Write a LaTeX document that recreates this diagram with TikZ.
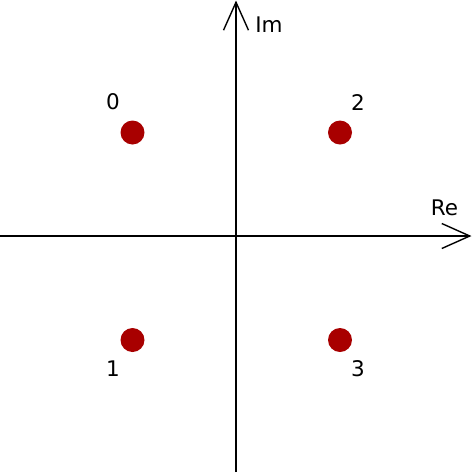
\documentclass[tikz,border=0pt]{standalone}
\usepackage{fontspec}
\setmainfont{DejaVu Sans}
\usetikzlibrary{arrows.meta, positioning}
\definecolor{symred}{HTML}{A80000}

\begin{document}
\begin{tikzpicture}[
    x=1pt, y=-1pt, >={Straight Barb[length=28pt, width=25pt, line width=1.4pt]},
    axis/.style={line width=1.4pt, ->},
    symbol/.style={circle, fill=symred, minimum size=24pt, inner sep=0pt},
    every node/.style={font=\fontsize{21.5}{26}\selectfont}
]
\useasboundingbox (0,0) rectangle (473,475);
% Define axes
\coordinate (re_start) at (0,236);
\coordinate (re_end) at (471.5,236);
\coordinate (im_start) at (236,472);
\coordinate (im_end) at (236,0.5);
\node (re_label) at (444.5,208) {Re};
\node (im_label) at (269,25) {Im};
% Define symbols
\node (sym0) [symbol] at (132.5,132.5) {};
\node (sym1) [symbol] at (132.5,340) {};
\node (sym2) [symbol] at (340,132.5) {};
\node (sym3) [symbol] at (340,340) {};
\node (label0) at (113,102) {0};
\node (label1) at (113,369) {1};
\node (label2) at (358,103) {2};
\node (label3) at (358,369) {3};
% Draw axes
\draw[axis] (re_start) -- (re_end);
\draw[axis] (im_start) -- (im_end);
\end{tikzpicture}
\end{document}
